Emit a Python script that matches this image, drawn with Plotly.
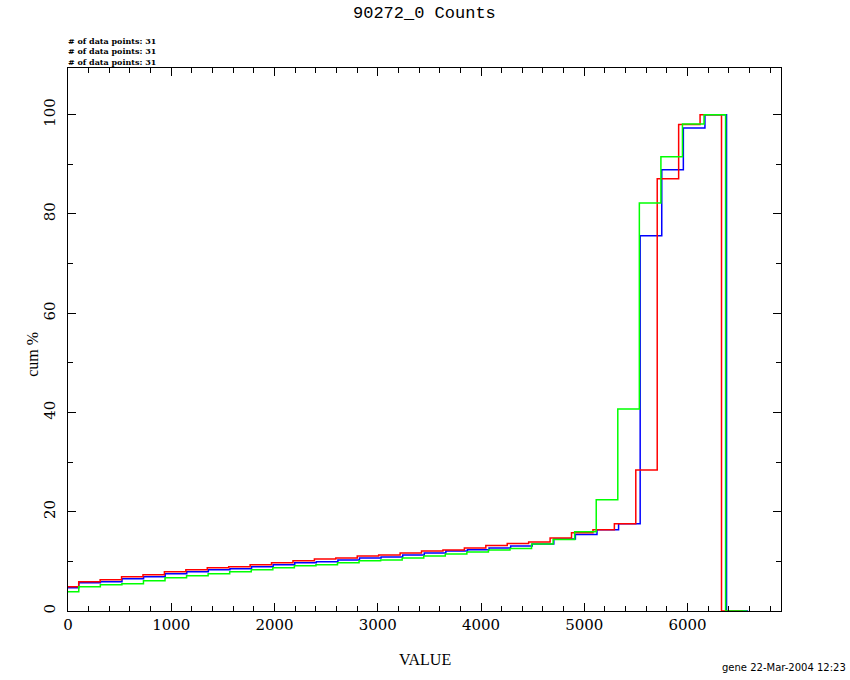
import plotly.graph_objects as go

# cumulative percent per bin (31 bins each)
red_values = [4.87, 5.88, 6.28, 6.89, 7.29, 7.9, 8.3, 8.7, 8.9, 9.3, 9.7, 10.1, 10.5, 10.7,
              11.1, 11.3, 11.7, 12.1, 12.3, 12.7, 13.2, 13.6, 13.9, 14.7, 15.75, 16.35, 17.6,
              28.4, 87.1, 98.0, 100.0]
blue_values = [4.67, 5.68, 5.88, 6.49, 6.89, 7.49, 7.9, 8.3, 8.5, 8.9, 9.3, 9.7, 9.9, 10.3,
               10.7, 10.9, 11.3, 11.7, 12.1, 12.35, 12.7, 13.1, 13.5, 14.5, 15.4, 16.35, 17.6,
               75.6, 88.9, 97.3, 100.0]
green_values = [3.87, 4.87, 5.28, 5.48, 6.08, 6.69, 7.09, 7.49, 7.9, 8.3, 8.7, 9.1, 9.3, 9.7,
                10.1, 10.3, 10.7, 11.1, 11.5, 11.9, 12.3, 12.6, 13.5, 14.4, 15.95, 22.4, 40.7,
                82.2, 91.5, 98.1, 100.0]
# bin width (VALUE units) of each series; bins centred on k*width
red_width = 207.5
blue_width = 209.1
green_width = 208.8

n_points = 31
title_text = "90272_0 Counts"
x_label = "VALUE"
y_label = "cum %"
stamp_text = "gene 22-Mar-2004 12:23"


def step_xy(values, width):
    xs, ys = [], []
    for k, v in enumerate(values):
        xs.append((k - 0.5) * width)
        ys.append(v)
    n = len(values)
    xs += [(n - 0.5) * width, (n + 0.5) * width]
    ys += [0, 0]
    return xs, ys


fig = go.Figure()
for vals, w, col in [(blue_values, blue_width, "#0000ff"),
                     (red_values, red_width, "#ff0000"),
                     (green_values, green_width, "#00ff00")]:
    xs, ys = step_xy(vals, w)
    fig.add_trace(go.Scatter(x=xs, y=ys, mode="lines", line=dict(color=col, width=1.5, shape="hv"),
                             showlegend=False, hoverinfo="skip"))

axis_common = dict(showline=True, linecolor="black", linewidth=1, mirror="ticks",
                   ticks="inside", tickcolor="black", tickwidth=1, ticklen=8,
                   showgrid=False, zeroline=False, automargin=False,
                   tickfont=dict(family="DejaVu Serif", size=15, color="black"))

fig.update_xaxes(range=[0, 6905], tick0=0, dtick=1000,
                 minor=dict(dtick=200, ticks="inside", ticklen=5, tickcolor="black"),
                 ticklabelstandoff=0,
                 **axis_common)
fig.update_yaxes(range=[0, 109.4], tick0=0, dtick=20, tickangle=-90,
                 minor=dict(dtick=10, ticks="inside", ticklen=5, tickcolor="black"),
                 ticklabelstandoff=6,
                 **axis_common)

annotations = [
    dict(text=title_text, x=0.5, y=1.1, xref="paper", yref="paper", xanchor="center",
         yanchor="middle", showarrow=False,
         font=dict(family="Liberation Mono", size=17, color="black")),
    dict(text=stamp_text, x=1.094, y=-0.104, xref="paper", yref="paper", xanchor="right",
         yanchor="middle", showarrow=False,
         font=dict(family="DejaVu Sans", size=10, color="black")),
    dict(text=x_label, x=0.5, y=-0.0893, xref="paper", yref="paper", xanchor="center",
         yanchor="middle", showarrow=False,
         font=dict(family="Liberation Serif", size=16, color="black")),
    dict(text=y_label, x=-0.049, y=0.472, xref="paper", yref="paper", xanchor="center",
         yanchor="middle", showarrow=False, textangle=-90,
         font=dict(family="Liberation Serif", size=16, color="black")),
    dict(text="<br>".join(["# of data points: %d" % n_points] * 3), x=0, y=1.0,
         xref="paper", yref="paper", xanchor="left", yanchor="bottom", align="left",
         showarrow=False, yshift=-1, xshift=-2,
         font=dict(family="DejaVu Serif", size=8, color="black", weight="bold")),
]

fig.update_layout(width=850, height=680, margin=dict(l=68, r=69, t=68, b=69),
                  plot_bgcolor="white", paper_bgcolor="white", annotations=annotations)

fig.write_html("out.html", config={"displayModeBar": False},
               post_script="document.body.style.margin='0';")
